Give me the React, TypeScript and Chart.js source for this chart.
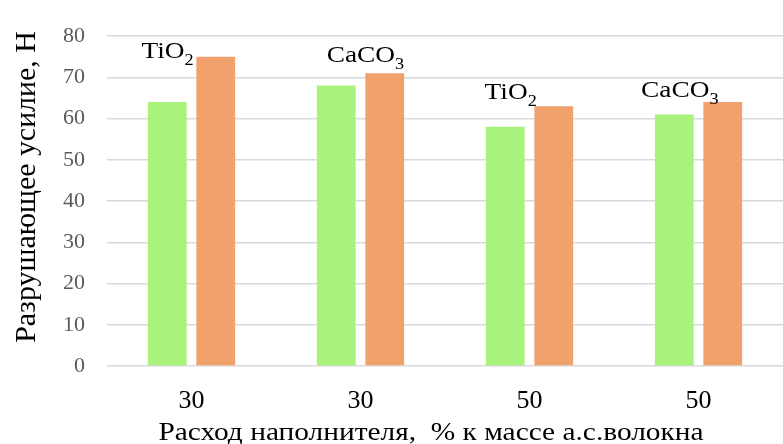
import React, { useEffect, useRef } from "react";
import { Chart, registerables } from "chart.js";

Chart.register(...registerables);

const categories = ["30", "30", "50", "50"];
const greenValues = [64, 68, 58, 61];
const orangeValues = [75, 71, 63, 64];
const yTicksMin = 0;
const yTicksMax = 80;
const yTickStep = 10;

const annotationMain = ["TiO", "CaCO", "TiO", "CaCO"];
const annotationSub = ["2", "3", "2", "3"];
// baseline of label in data units, and left start offset in category widths
const annotationValue = [74.7, 73.7, 64.7, 65.2];
const annotationOffset = [-0.296, -0.2, -0.266, -0.34];

const yTitle = "Разрушающее усилие, Н";
const xTitle = "Расход наполнителя,  % к массе а.с.волокна";

const SERIF = "'Times New Roman', 'Liberation Serif', serif";
const STRETCH = 1.14;

const overlayPlugin = {
  id: "overlay",
  afterDraw(chart: any) {
    const ctx = chart.ctx as CanvasRenderingContext2D;
    const xs = chart.scales.x;
    const ys = chart.scales.y;
    const catW = xs.getPixelForValue(1) - xs.getPixelForValue(0);
    ctx.save();
    ctx.fillStyle = "#000";
    ctx.textBaseline = "alphabetic";
    ctx.textAlign = "left";
    for (let i = 0; i < annotationMain.length; i++) {
      const x0 = xs.getPixelForValue(i) + annotationOffset[i] * catW;
      const y0 = ys.getPixelForValue(annotationValue[i]);
      ctx.save();
      ctx.translate(x0, y0);
      ctx.scale(STRETCH, 1);
      ctx.font = `24px ${SERIF}`;
      ctx.fillText(annotationMain[i], 0, 0);
      const w = ctx.measureText(annotationMain[i]).width;
      ctx.font = `16px ${SERIF}`;
      ctx.fillText(annotationSub[i], w, 7);
      ctx.restore();
    }
    // y title
    ctx.save();
    ctx.font = `29px ${SERIF}`;
    ctx.translate(27, 187);
    ctx.rotate(-Math.PI / 2);
    ctx.scale(1.03, 1);
    ctx.textAlign = "center";
    ctx.textBaseline = "middle";
    ctx.fillText(yTitle, 0, 0);
    ctx.restore();
    // x title
    ctx.save();
    ctx.font = `26px ${SERIF}`;
    ctx.textAlign = "center";
    ctx.textBaseline = "alphabetic";
    ctx.translate(431, 440);
    ctx.scale(1.13, 1);
    ctx.fillText(xTitle, 0, 0);
    ctx.restore();
    ctx.restore();
  },
};

export default function App() {
  const ref = useRef<HTMLCanvasElement>(null);
  useEffect(() => {
    document.body.style.margin = "0";
    const chart = new Chart(ref.current!, {
      type: "bar",
      data: {
        labels: categories,
        datasets: [
          {
            data: greenValues,
            backgroundColor: "#A9F27B",
            categoryPercentage: 0.574,
            barPercentage: 0.8,
          },
          {
            data: orangeValues,
            backgroundColor: "#F1A16B",
            categoryPercentage: 0.574,
            barPercentage: 0.8,
          },
        ],
      },
      options: {
        animation: false,
        responsive: false,
        maintainAspectRatio: false,
        layout: { padding: { top: 36, right: 0, left: 0, bottom: 0 } },
        plugins: { legend: { display: false }, tooltip: { enabled: false } },
        scales: {
          x: {
            grid: { display: false },
            border: { display: false },
            ticks: { font: { size: 26, family: SERIF }, color: "#000", padding: 12 },
            afterFit: (s: any) => {
              s.height = 78;
            },
          },
          y: {
            min: yTicksMin,
            max: yTicksMax,
            ticks: {
              stepSize: yTickStep,
              font: { size: 22, family: SERIF },
              color: "#595959",
              padding: 22,
            },
            grid: { color: "#d9d9d9", lineWidth: 1.5, drawTicks: false },
            border: { display: false },
            afterFit: (s: any) => {
              s.width = 107;
            },
          },
        },
      },
      plugins: [overlayPlugin],
    });
    return () => chart.destroy();
  }, []);
  return <canvas ref={ref} width={783} height={444} style={{ display: "block" }} />;
}
